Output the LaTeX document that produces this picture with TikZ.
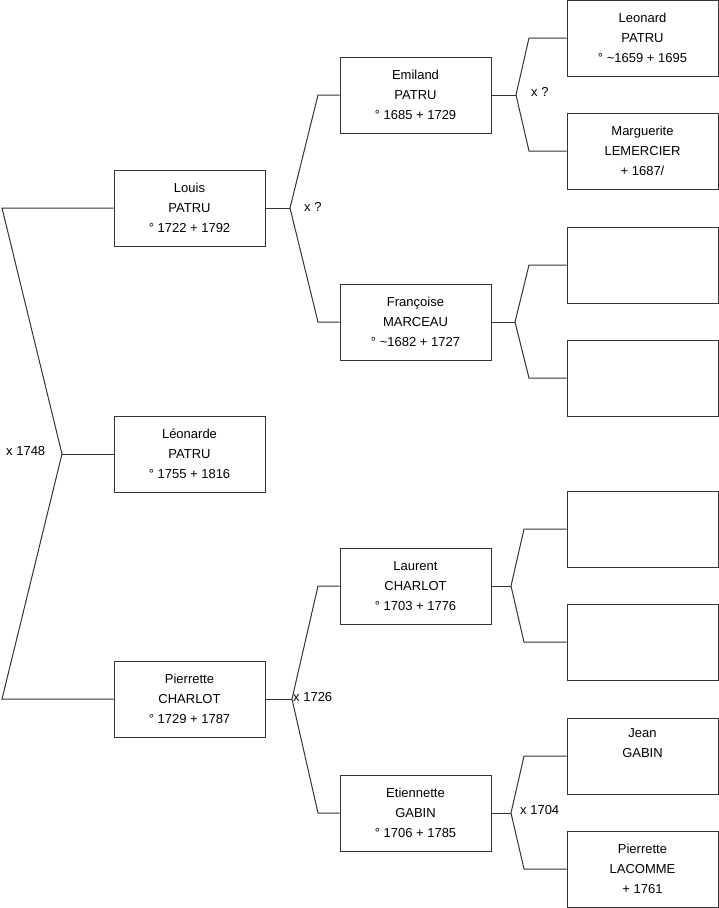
\documentclass[tikz,border=0pt]{standalone}
\usepackage{fontspec}
\setmainfont{Liberation Sans}
\begin{document}
\begin{tikzpicture}[x=1pt,y=-1pt,
  person/.style={draw=black!80,line width=1pt,fill=white,minimum width=151pt,minimum height=76pt,inner sep=0pt,align=center,font=\fontsize{13}{20}\selectfont},
  link/.style={draw=black!80,line width=1pt},
  marr/.style={anchor=west,inner sep=0pt,font=\fontsize{13}{14}\selectfont}]
\useasboundingbox (0,0) rectangle (719,908);
% level 1
\node[person] (louis) at (189.5,208) {Louis\\PATRU\\° 1722 + 1792};
\node[person] (leonarde) at (189.5,454) {Léonarde\\PATRU\\° 1755 + 1816};
\node[person] (pierrette) at (189.5,699) {Pierrette\\CHARLOT\\° 1729 + 1787};
% level 2
\node[person] (emiland) at (415.5,95) {Emiland\\PATRU\\° 1685 + 1729};
\node[person] (francoise) at (415.5,322) {Françoise\\MARCEAU\\° \textasciitilde 1682 + 1727};
\node[person] (laurent) at (415.5,586) {Laurent\\CHARLOT\\° 1703 + 1776};
\node[person] (etiennette) at (415.5,813) {Etiennette\\GABIN\\° 1706 + 1785};
% level 3
\node[person] (leonard) at (642.5,38) {Leonard\\PATRU\\° \textasciitilde 1659 + 1695};
\node[person] (marguerite) at (642.5,151) {Marguerite\\LEMERCIER\\+ 1687/};
\node[person] (b1) at (642.5,265) {};
\node[person] (b2) at (642.5,378) {};
\node[person] (b3) at (642.5,529) {};
\node[person] (b4) at (642.5,642) {};
\node[person] (jean) at (642.5,756) {Jean\\GABIN\\\strut};
\node[person] (pierrettel) at (642.5,869) {Pierrette\\LACOMME\\+ 1761};
% coordinates
\coordinate (r) at (62,454);
\coordinate (rt) at (2,208);
\coordinate (rb) at (2,699);
\coordinate (v1) at (290,208);
\coordinate (v1a) at (318,95);
\coordinate (v1b) at (318,322);
\coordinate (v2) at (292,699);
\coordinate (v2a) at (318,586);
\coordinate (v2b) at (318,813);
\coordinate (v3) at (516,95);
\coordinate (v3a) at (529,38);
\coordinate (v3b) at (529,151);
\coordinate (v4) at (515,322);
\coordinate (v4a) at (529,265);
\coordinate (v4b) at (529,378);
\coordinate (v5) at (511,586);
\coordinate (v5a) at (524,529);
\coordinate (v5b) at (524,642);
\coordinate (v6) at (511,813);
\coordinate (v6a) at (524,756);
\coordinate (v6b) at (524,869);
% connectors
\draw[link] (louis.west) -- (rt) -- (r) -- (rb) -- (pierrette.west);
\draw[link] (r) -- (leonarde.west);
\draw[link] (louis.east) -- (v1);
\draw[link] (emiland.west) -- (v1a) -- (v1) -- (v1b) -- (francoise.west);
\draw[link] (pierrette.east) -- (v2);
\draw[link] (laurent.west) -- (v2a) -- (v2) -- (v2b) -- (etiennette.west);
\draw[link] (emiland.east) -- (v3);
\draw[link] (leonard.west) -- (v3a) -- (v3) -- (v3b) -- (marguerite.west);
\draw[link] (francoise.east) -- (v4);
\draw[link] (b1.west) -- (v4a) -- (v4) -- (v4b) -- (b2.west);
\draw[link] (laurent.east) -- (v5);
\draw[link] (b3.west) -- (v5a) -- (v5) -- (v5b) -- (b4.west);
\draw[link] (etiennette.east) -- (v6);
\draw[link] (jean.west) -- (v6a) -- (v6) -- (v6b) -- (pierrettel.west);
% marriage labels
\node[marr] (m1) at (6,451) {x 1748};
\node[marr] (m2) at (304,207) {x ?};
\node[marr] (m3) at (531,92) {x ?};
\node[marr] (m4) at (293,697) {x 1726};
\node[marr] (m5) at (520,810) {x 1704};
\end{tikzpicture}
\end{document}
